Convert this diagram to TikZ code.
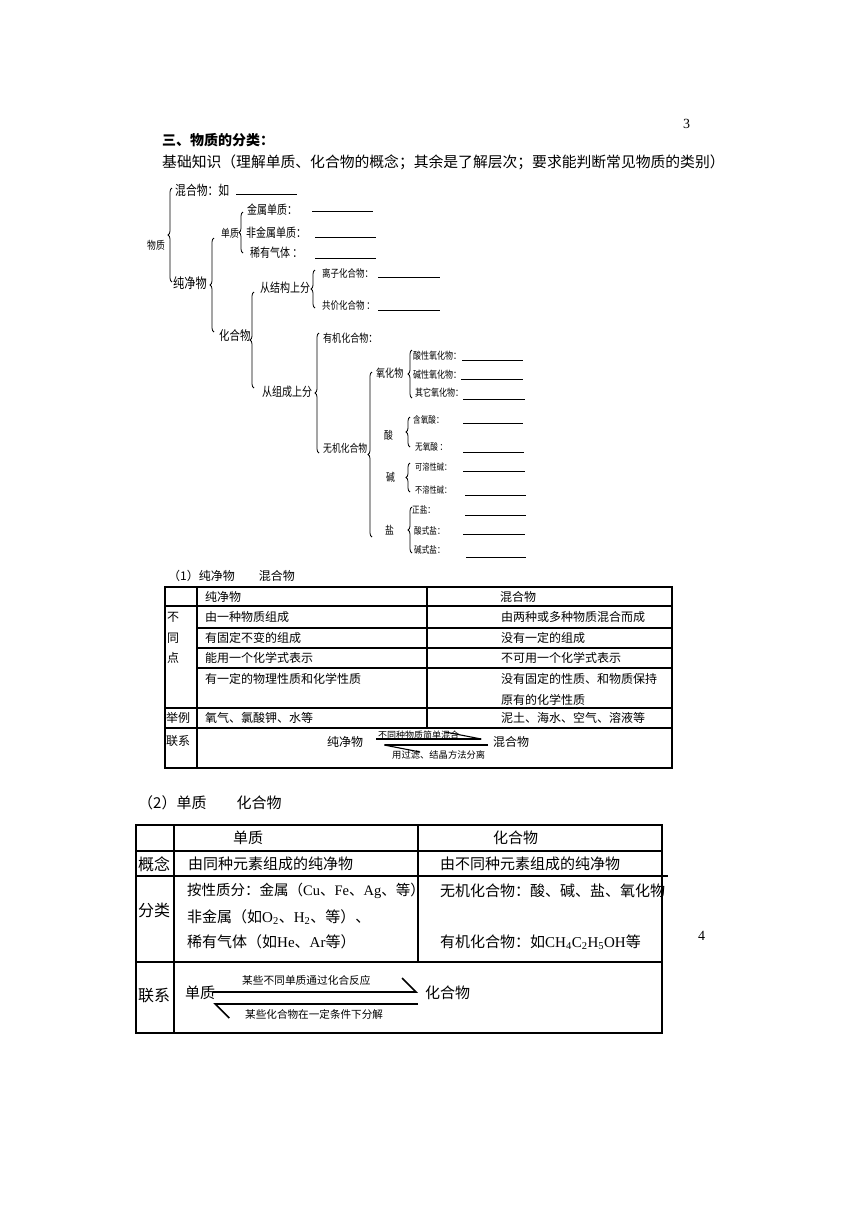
\documentclass[tikz,border=0pt]{standalone}
\usepackage{fontspec}
\setmainfont{Liberation Serif}
\newfontfamily\cjk{Noto Sans CJK SC}
\newfontfamily\cjkn[FakeStretch=0.8]{Noto Sans CJK SC}
\usepackage{tikz}
\usetikzlibrary{arrows.meta,positioning,decorations.pathreplacing}
\newcommand{\fsz}[1]{\fontsize{#1}{#1}\selectfont}
\newcommand{\la}[1]{{\rmfamily #1}}

\begin{document}
\begin{tikzpicture}[x=1pt, y=-1pt,
  txt/.style={anchor=west, inner sep=0pt},
  tr/.style={txt, font=\cjkn\fsz{12.5}},
  trs/.style={txt, font=\cjkn\fsz{10}},
  cellA/.style={txt, font=\cjk\fsz{12}},
  cellB/.style={txt, font=\cjk\fsz{15}},
  brc/.style={decorate, decoration={brace, amplitude=4pt}, line width=0.8pt},
  blank/.style={line width=0.9pt},
  rule1/.style={line width=1.2pt},
  rule2/.style={line width=1.8pt},
  harpA/.style={line width=1.1pt, -{Straight Barb[harpoon, length=36pt, width=14pt]}},
  harpB/.style={line width=1.6pt, -{Straight Barb[harpoon, length=14pt, width=28pt]}}
]
\useasboundingbox (0,0) rectangle (860,1216);

% Heading
\node[txt, font=\rmfamily\fsz{14}] (pg3) at (683,124) {3};
\node[txt, font=\cjk\bfseries\fsz{14}] (ttl) at (162,140) {三、物质的分类：};
\node[txt, font=\cjk\fsz{14.8}] (intro) at (162,162)
  {基础知识（理解单质、化合物的概念；其余是了解层次；要求能判断常见物质的类别）};

% Tree
\node[tr, font=\cjkn\fsz{11}] (wz) at (147,245) {物质};
\node[tr, font=\cjkn\fsz{13.5}] (hhw) at (175,190) {混合物：如};
\node[tr, font=\cjkn\fsz{14}] (cjw) at (173,283) {纯净物};
\node[tr, font=\cjkn\fsz{11}] (dz) at (221,233) {单质};
\node[tr, font=\cjkn\fsz{13}] (hhwu) at (219,336) {化合物};
\node[tr] (js) at (247,210) {金属单质：};
\node[tr] (fjs) at (246,233) {非金属单质：};
\node[tr] (xyqt) at (250,253) {稀有气体\,：};
\node[tr] (jg) at (260,288) {从结构上分};
\node[tr, font=\cjkn\fsz{10.6}] (lz) at (322,273) {离子化合物：};
\node[tr, font=\cjkn\fsz{10.6}] (gj) at (322,305) {共价化合物\,：};
\node[tr] (zc) at (262,392) {从组成上分};
\node[tr, font=\cjkn\fsz{11.3}] (yj) at (323,338) {有机化合物：};
\node[tr, font=\cjkn\fsz{11}] (wj) at (323,448) {无机化合物};
\node[tr, font=\cjkn\fsz{11.3}] (yhw) at (376,373) {氧化物};
\node[trs] (sx) at (413,356) {酸性氧化物：};
\node[trs] (jx) at (413,375) {碱性氧化物：};
\node[trs] (qt) at (415,393) {其它氧化物：};
\node[tr, font=\cjkn\fsz{11}] (suan) at (384,435) {酸};
\node[trs, font=\cjkn\fsz{9.5}] (hy) at (413,420) {含氧酸：};
\node[trs, font=\cjkn\fsz{9.5}] (wy) at (415,447) {无氧酸\,：};
\node[tr, font=\cjkn\fsz{11}] (jian) at (386,477) {碱};
\node[trs, font=\cjkn\fsz{9}] (kr) at (415,467) {可溶性碱：};
\node[trs, font=\cjkn\fsz{9}] (br) at (415,490) {不溶性碱：};
\node[tr, font=\cjkn\fsz{11}] (yan) at (385,530) {盐};
\node[trs, font=\cjkn\fsz{9.5}] (zy) at (412,510) {正盐：};
\node[trs, font=\cjkn\fsz{9.5}] (sy) at (414,531) {酸式盐：};
\node[trs, font=\cjkn\fsz{9.5}] (jy) at (414,550) {碱式盐：};

% Braces
\draw[brc] (172,282) -- (172,188);
\draw[brc] (214,332) -- (214,238);
\draw[brc] (243,253) -- (243,212);
\draw[brc] (254,388) -- (254,292);
\draw[brc] (315,308) -- (315,270);
\draw[brc] (319,453) -- (319,333);
\draw[brc] (372,537) -- (372,372);
\draw[brc] (412,398) -- (412,350);
\draw[brc] (410,447) -- (410,417);
\draw[brc] (410,492) -- (410,463);
\draw[brc] (412,553) -- (412,507);

% Blanks
\foreach \xa/\xb/\yy in {236/297/194, 312/373/211, 315/376/237, 315/376/258,
    378/440/277, 378/440/310, 462/523/360, 461/523/379, 463/525/399,
    463/523/423, 463/524/452, 463/525/471, 465/526/495, 465/526/515,
    463/525/534, 466/526/557}
  \draw[blank] (\xa,\yy) -- (\xb,\yy);

% Table 1
\node[cellA] (capA) at (168,576) {（1）纯净物\hspace{2em}混合物};
\draw[rule1] (165,587) rectangle (672,768);
\draw[rule1] (197,587) -- (197,768);
\draw[rule1] (427,587) -- (427,728);
\foreach \yy in {606,708,728}
  \draw[rule1] (165,\yy) -- (672,\yy);
\foreach \yy in {628,648,668}
  \draw[rule1] (197,\yy) -- (672,\yy);

\node[cellA] (hA1) at (205,597) {纯净物};
\node[cellA] (hA2) at (500,597) {混合物};
\node[cellA] (bu) at (167,617) {不};
\node[cellA] (tong) at (167,638) {同};
\node[cellA] (dian) at (167,658) {点};
\node[cellA] (a1) at (205,617) {由一种物质组成};
\node[cellA] (a2) at (205,638) {有固定不变的组成};
\node[cellA] (a3) at (205,658) {能用一个化学式表示};
\node[cellA] (a4) at (205,679) {有一定的物理性质和化学性质};
\node[cellA] (b1) at (501,617) {由两种或多种物质混合而成};
\node[cellA] (b2) at (501,638) {没有一定的组成};
\node[cellA] (b3) at (501,658) {不可用一个化学式表示};
\node[cellA] (b4) at (501,679) {没有固定的性质、和物质保持};
\node[cellA] (b5) at (501,700) {原有的化学性质};
\node[cellA] (jl) at (166,718) {举例};
\node[cellA] (a5) at (205,718) {氧气、氯酸钾、水等};
\node[cellA] (b6) at (501,718) {泥土、海水、空气、溶液等};
\node[cellA] (lxA) at (166,741) {联系};
\node[cellA] (pjw) at (327,742) {纯净物};
\node[cellA] (hhwA) at (493,742) {混合物};
\draw[harpA] ([xshift=13pt,yshift=3pt]pjw.east) -- ([xshift=-6pt,yshift=3pt]hhwA.west);
\draw[harpA] ([xshift=-5pt,yshift=-3pt]hhwA.west) -- ([xshift=15pt,yshift=-3pt]pjw.east);
\node[txt, font=\cjk\fsz{9}] (mixA) at (378,735) {不同种物质简单混合};
\node[txt, font=\cjk\fsz{9.3}] (sepA) at (392,755) {用过滤、结晶方法分离};

% Table 2
\node[cellB] (capB) at (138,803) {（2）单质\hspace{2em}化合物};
\draw[rule2] (136,825) rectangle (662,1033);
\draw[rule2] (174,825) -- (174,1033);
\draw[rule2] (418,825) -- (418,962);
\draw[rule2] (136,851) -- (662,851);
\draw[rule2] (136,876) -- (668,876);
\draw[rule2] (136,962) -- (662,962);

\node[cellB] (hB1) at (233,838) {单质};
\node[cellB] (hB2) at (493,838) {化合物};
\node[cellB, font=\cjk\fsz{16}] (gn) at (138,864) {概念};
\node[cellB] (c1) at (188,864) {由同种元素组成的纯净物};
\node[cellB] (d1) at (440,864) {由不同种元素组成的纯净物};
\node[cellB, font=\cjk\fsz{16}] (fl) at (138,910) {分类};
\node[cellB, font=\cjk\fsz{14.5}] (c2) at (187,891)
  {按性质分：金属（\la{Cu}、\la{Fe}、\la{Ag}、等）};
\node[cellB] (c3) at (187,917)
  {非金属（如\la{O\textsubscript{2}}、\la{H\textsubscript{2}}、等）、};
\node[cellB] (c4) at (187,942) {稀有气体（如\la{He}、\la{Ar}等）};
\node[cellB] (d2) at (440,891) {无机化合物：酸、碱、盐、氧化物};
\node[cellB] (d3) at (440,942)
  {有机化合物：如\la{CH\textsubscript{4}C\textsubscript{2}H\textsubscript{5}OH}等};
\node[cellB, font=\cjk\fsz{16}] (lxB) at (138,996) {联系};
\node[cellB] (dzB) at (185,993) {单质};
\node[cellB] (hhwB) at (425,993) {化合物};
\draw[harpB] ([xshift=-2pt,yshift=1pt]dzB.east) -- ([xshift=-7pt,yshift=1pt]hhwB.west);
\draw[harpB] ([xshift=-7pt,yshift=-11pt]hhwB.west) -- ([xshift=-2pt,yshift=-11pt]dzB.east);
\node[txt, font=\cjk\fsz{10.7}] (hhfy) at (242,980) {某些不同单质通过化合反应};
\node[txt, font=\cjk\fsz{10.6}] (fjfy) at (245,1014) {某些化合物在一定条件下分解};

\node[txt, font=\rmfamily\fsz{14}] (pg4) at (698,936) {4};

\end{tikzpicture}
\end{document}
